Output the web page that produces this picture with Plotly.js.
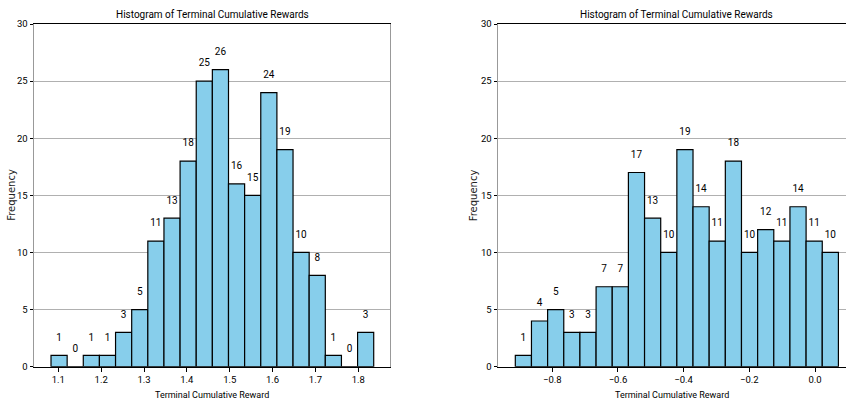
<!DOCTYPE html>
<html>
<head>
<meta charset="utf-8">
<script src="https://cdn.plot.ly/plotly-3.0.1.min.js"></script>
<style>html,body{margin:0;padding:0;background:#fff;}#chart{width:846px;height:400px;}</style>
</head>
<body>
<div id="chart"></div>
<script>
// Left histogram: bin start, bin width, counts
const leftBinStart = 1.083;
const leftBinWidth = 0.03765;
const leftCounts = [1, 0, 1, 1, 3, 5, 11, 13, 18, 25, 26, 16, 15, 24, 19, 10, 8, 1, 0, 3];

// Right histogram
const rightBinStart = -0.9127;
const rightBinWidth = 0.0492;
const rightCounts = [1, 4, 5, 3, 3, 7, 7, 17, 13, 10, 19, 14, 11, 18, 10, 12, 11, 14, 11, 10];

const chartTitle = "Histogram of Terminal Cumulative Rewards";
const xLabel = "Terminal Cumulative Reward";
const yLabel = "Frequency";

function centers(start, width, n) {
  const c = [];
  for (let i = 0; i < n; i++) c.push(start + (i + 0.5) * width);
  return c;
}

const narrow = "Roboto, 'Liberation Sans', sans-serif";
const leftX = centers(leftBinStart, leftBinWidth, leftCounts.length);
const rightX = centers(rightBinStart, rightBinWidth, rightCounts.length);

function barTrace(x, y, w, xa, ya) {
  return {
    type: 'bar', x: x, y: y, width: w, xaxis: xa, yaxis: ya,
    marker: {color: '#87CEEB', line: {color: '#000', width: 1.2}},
    hoverinfo: 'skip', showlegend: false
  };
}
function labelTrace(x, y, xa, ya) {
  return {
    type: 'scatter', mode: 'text', x: x, y: y.map(v => v + 1.5),
    text: y.map(String), textposition: 'middle center',
    textfont: {family: narrow, size: 10, color: '#000'},
    xaxis: xa, yaxis: ya, hoverinfo: 'skip', showlegend: false, cliponaxis: false
  };
}

const data = [
  barTrace(leftX, leftCounts, leftBinWidth, 'x', 'y'),
  labelTrace(leftX, leftCounts, 'x', 'y'),
  barTrace(rightX, rightCounts, rightBinWidth, 'x2', 'y2'),
  labelTrace(rightX, rightCounts, 'x2', 'y2')
];

const W = 846, H = 400;
const xAxisCommon = {
  ticks: 'outside', ticklen: 3.5, tickwidth: 1, tickcolor: '#000',
  showgrid: false, zeroline: false, showline: true, linecolor: '#000', linewidth: 1.3,
  tickfont: {family: narrow, size: 9.5, color: '#000'},
  title: {text: xLabel, font: {family: narrow, size: 9, color: '#000'}},
  tickformat: '.1f', mirror: true
};
const yAxisCommon = {
  range: [0, 30], dtick: 5, ticks: 'outside', ticklen: 3.5, tickwidth: 1, tickcolor: '#000',
  showgrid: true, gridcolor: '#b0b0b0', gridwidth: 1, zeroline: false,
  showline: true, linecolor: '#999', linewidth: 1.3,
  tickfont: {family: narrow, size: 9.5, color: '#000'},
  domain: [33.3 / H, 376 / H]
};

const yTitleFont = {family: "'DejaVu Sans', sans-serif", size: 10, color: '#222'};
const titleFont = {family: narrow, size: 10, color: '#000'};

const layout = {
  width: W, height: H,
  margin: {l: 0, r: 0, t: 0, b: 0},
  paper_bgcolor: '#fff', plot_bgcolor: '#fff',
  bargap: 0,
  xaxis: Object.assign({}, xAxisCommon, {
    domain: [34.3 / W, 390 / W], range: [1.044, 1.874], dtick: 0.1, anchor: 'y'
  }),
  yaxis: Object.assign({}, yAxisCommon, {anchor: 'x', mirror: true}),
  xaxis2: Object.assign({}, xAxisCommon, {
    domain: [498.3 / W, 1], range: [-0.9645, 0.0944], dtick: 0.2, anchor: 'y2'
  }),
  yaxis2: Object.assign({}, yAxisCommon, {anchor: 'x2', mirror: false}),
  annotations: [
    {text: chartTitle, xref: 'paper', yref: 'paper', x: 212.2 / W, y: (H - 14) / H,
     xanchor: 'center', yanchor: 'middle', showarrow: false, font: titleFont},
    {text: chartTitle, xref: 'paper', yref: 'paper', x: 676.5 / W, y: (H - 14) / H,
     xanchor: 'center', yanchor: 'middle', showarrow: false, font: titleFont},
    {text: yLabel, xref: 'paper', yref: 'paper', x: 11.5 / W, y: (H - 195.3) / H,
     xanchor: 'center', yanchor: 'middle', showarrow: false, textangle: -90, font: yTitleFont},
    {text: yLabel, xref: 'paper', yref: 'paper', x: 473 / W, y: (H - 195.3) / H,
     xanchor: 'center', yanchor: 'middle', showarrow: false, textangle: -90, font: yTitleFont}
  ]
};

Plotly.newPlot('chart', data, layout, {staticPlot: true, displayModeBar: false});
</script>
</body>
</html>
